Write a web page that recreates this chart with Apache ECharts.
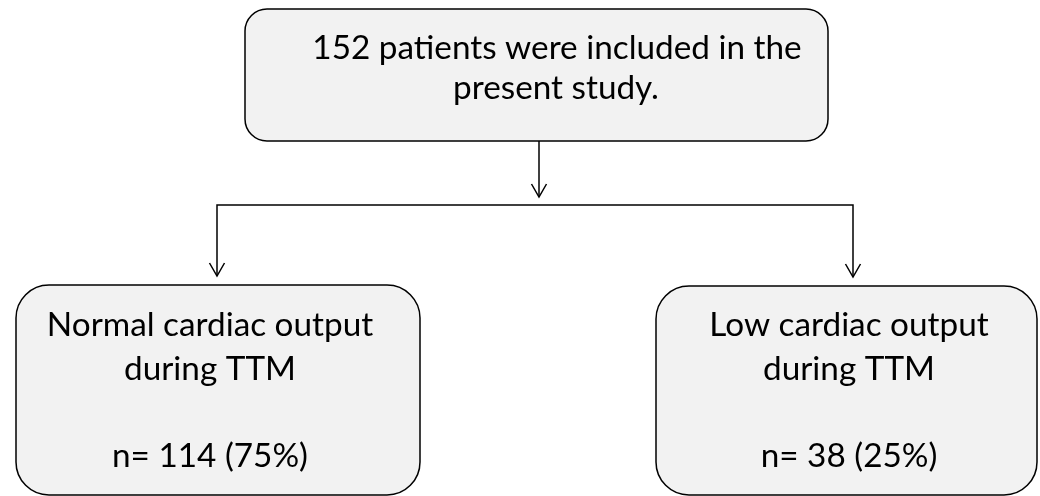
<!DOCTYPE html>
<html><head><meta charset="utf-8">
<script src="https://cdn.jsdelivr.net/npm/echarts@6/dist/echarts.min.js"></script>
<style>html,body{margin:0;padding:0;background:#fff}#c{width:1040px;height:496px}</style>
</head><body><div id="c"></div>
<script>
// ---- data ----
const totalN = 152;
const topLines = ["152 patients were included in the", "present study."];
const groupNames = [["Normal cardiac output", "during TTM"], ["Low cardiac output", "during TTM"]];
const groupCounts = [114, 38];
const groupPercents = [75, 25];

// ---- layout ----
const FONT = 'Lato, "Open Sans", sans-serif';
const FS = 33.3;
const fill = '#f2f2f2';
const stroke = '#000';
const topBox = {x: 245, y: 9, w: 583, h: 132, r: 22};
const boxes = [
  {x: 16, y: 285, w: 404, h: 210, r: 33, cx: 210},
  {x: 656, y: 286, w: 381, h: 209, r: 33, cx: 849}
];
const stemX = 539, barY = 205, arrowXs = [217, 853], arrowTipY = [276, 277];

function arrowHead(x, y) {
  return {type: 'polyline', shape: {points: [[x - 7.5, y - 13], [x, y], [x + 7.5, y - 13]]},
    style: {stroke: stroke, lineWidth: 1.5, fill: null}};
}
function txt(t, x, y) {
  return {type: 'text', x: x, y: y, style: {text: t, fontSize: FS, fontFamily: FONT, fill: '#000', align: 'center', verticalAlign: 'middle'}};
}

const els = [];
els.push({type: 'rect', shape: {x: topBox.x, y: topBox.y, width: topBox.w, height: topBox.h, r: topBox.r}, style: {fill: fill, stroke: stroke, lineWidth: 1.5}});
els.push(txt(topLines[0], 557, 48));
els.push(txt(topLines[1], 556, 88));
// stem
els.push({type: 'line', shape: {x1: stemX, y1: topBox.y + topBox.h, x2: stemX, y2: 197}, style: {stroke: stroke, lineWidth: 1.5}});
els.push(arrowHead(stemX, 197));
// bar and branches
els.push({type: 'polyline', shape: {points: [[arrowXs[0], arrowTipY[0]], [arrowXs[0], barY], [arrowXs[1], barY], [arrowXs[1], arrowTipY[1]]]}, style: {stroke: stroke, lineWidth: 1.5, fill: null}});
els.push(arrowHead(arrowXs[0], arrowTipY[0]));
els.push(arrowHead(arrowXs[1], arrowTipY[1]));

boxes.forEach((b, i) => {
  els.push({type: 'rect', shape: {x: b.x, y: b.y, width: b.w, height: b.h, r: b.r}, style: {fill: fill, stroke: stroke, lineWidth: 1.5}});
  els.push(txt(groupNames[i][0], b.cx, 325));
  els.push(txt(groupNames[i][1], b.cx, 369));
  els.push(txt('n= ' + groupCounts[i] + ' (' + groupPercents[i] + '%)', b.cx, 456));
});

const chart = echarts.init(document.getElementById('c'));
chart.setOption({animation: false, graphic: {elements: els}});
</script></body></html>
